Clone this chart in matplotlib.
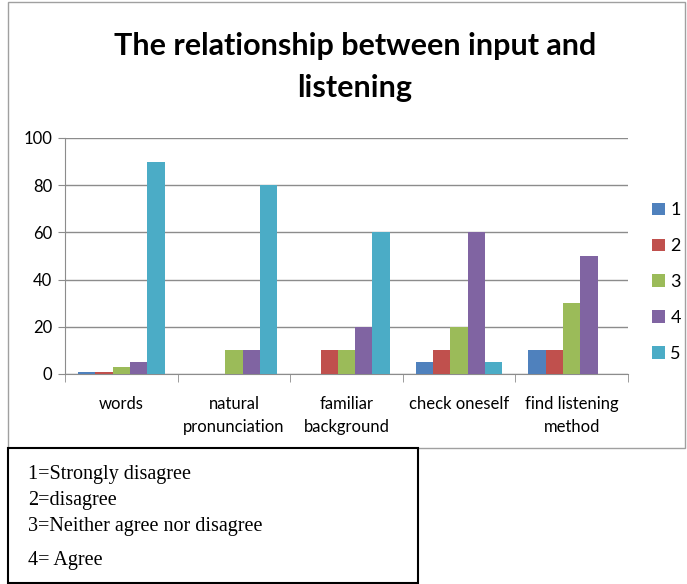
import numpy as np
import matplotlib
matplotlib.use('Agg')
import matplotlib.pyplot as plt
from matplotlib.patches import Rectangle

# DATA
categories = ['words', 'natural\npronunciation', 'familiar\nbackground',
              'check oneself', 'find listening\nmethod']
series_names = ['1', '2', '3', '4', '5']
s1 = [1, 0, 0, 5, 10]
s2 = [1, 0, 10, 10, 10]
s3 = [3, 10, 10, 20, 30]
s4 = [5, 10, 20, 60, 50]
s5 = [90, 80, 60, 5, 0]
y_ticks = [0, 20, 40, 60, 80, 100]
key_lines = ['1=Strongly disagree', '2=disagree',
             '3=Neither agree nor disagree', '4= Agree']

colors = ['#4F81BD', '#C0504D', '#9BBB59', '#8064A2', '#4BACC6']

W, H = 687, 584
fig = plt.figure(figsize=(W / 100, H / 100), dpi=100)

# chart frame
fig.patches.append(Rectangle((8 / W, 1 - 448 / H), 677 / W, 446 / H,
                             transform=fig.transFigure, fill=False,
                             edgecolor='#A0A0A0', linewidth=1))

ax = fig.add_axes([65 / W, 1 - 374 / H, (628 - 65) / W, (374 - 138) / H])

# Add traces
x = np.arange(len(categories))
w = 1 / 6.5
for j, vals in enumerate([s1, s2, s3, s4, s5]):
    ax.bar(x + (j - 2) * w, vals, width=w, color=colors[j],
           label=series_names[j], zorder=3)

# Format axes
ax.set_xlim(-0.5, len(categories) - 0.5)
ax.set_ylim(0, 100)
ax.set_yticks(y_ticks)
ax.yaxis.grid(True, color='#8C8C8C', linewidth=1, zorder=0)
ax.set_xticks(x)
ax.set_xticklabels(categories, fontsize=12, family='Lato', linespacing=1.55)
ax.tick_params(axis='x', length=0, pad=16)
ax.set_xticks(np.arange(-0.5, len(categories)), minor=True)
ax.tick_params(axis='x', which='minor', length=6, direction='out',
               color='#8C8C8C')
ax.tick_params(axis='y', labelsize=12, length=5, direction='out',
               color='#8C8C8C', pad=4)
for lbl in ax.get_yticklabels():
    lbl.set_family('Lato')
for s in ['top', 'right']:
    ax.spines[s].set_visible(False)
ax.spines['left'].set_color('#8C8C8C')
ax.spines['bottom'].set_color('#8C8C8C')

# Title
fig.text(355 / W, 1 - 67 / H, 'The relationship between input and\nlistening',
         ha='center', va='center', fontsize=22, fontweight='bold',
         family='Lato', linespacing=1.6)

# Legend
ax.legend(loc='center left', bbox_to_anchor=(636 / W, 1 - 282 / H),
          bbox_transform=fig.transFigure, frameon=False,
          prop={'family': 'Lato', 'size': 13}, handlelength=0.7,
          handleheight=0.7, handletextpad=0.3, labelspacing=1.1)

# Key box
fig.patches.append(Rectangle((8 / W, 1 - 583 / H), 410 / W, 135 / H,
                             transform=fig.transFigure, facecolor='white',
                             edgecolor='black', linewidth=1.5, zorder=5))
for txt, yy in zip(key_lines, [475, 500, 526, 561]):
    fig.text(28 / W, 1 - yy / H, txt, ha='left', va='center', fontsize=14.5,
             family='Liberation Serif', zorder=6)

plt.savefig('out.png', dpi=100)
